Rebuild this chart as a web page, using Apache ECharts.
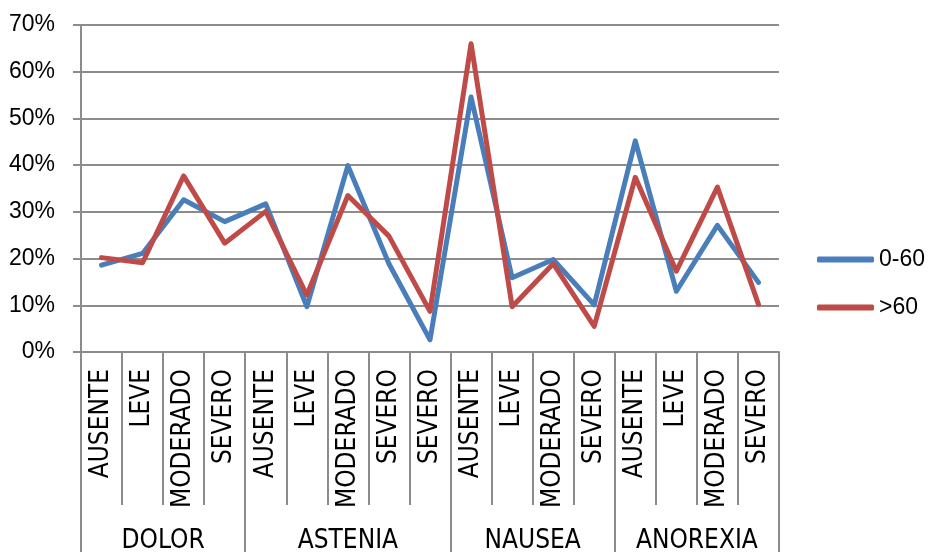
<!DOCTYPE html>
<html>
<head>
<meta charset="utf-8">
<script src="https://cdn.jsdelivr.net/npm/echarts@6/dist/echarts.min.js"></script>
<style>
  html, body { margin: 0; padding: 0; background: #fff; }
  #chart { width: 930px; height: 554px; }
</style>
</head>
<body>
<div id="chart"></div>
<script>
// Severity levels along the bottom, one per point
const categories = [
  'AUSENTE', 'LEVE', 'MODERADO', 'SEVERO',
  'AUSENTE', 'LEVE', 'MODERADO', 'SEVERO', 'SEVERO',
  'AUSENTE', 'LEVE', 'MODERADO', 'SEVERO',
  'AUSENTE', 'LEVE', 'MODERADO', 'SEVERO'
];
// Symptom groups and how many severity levels each spans
const groupNames = ['DOLOR', 'ASTENIA', 'NAUSEA', 'ANOREXIA'];
const groupSizes = [4, 5, 4, 4];

// Percentage of patients per age band
const seriesNames = ['0-60', '>60'];
const ageUpTo60 = [18.6, 21.1, 32.6, 27.9, 31.7, 9.7, 39.9, 18.9, 2.6, 54.6, 15.9, 19.8, 10.1, 45.2, 13.0, 27.1, 14.9];
const ageOver60 = [20.2, 19.1, 37.7, 23.3, 30.1, 12.2, 33.5, 24.8, 8.7, 66.0, 9.7, 18.9, 5.5, 37.4, 17.3, 35.3, 10.2];

// y axis ticks (percent)
const yMax = 70;
const yStep = 10;

// group boundaries and centres on a 0..N scale
const groupEdges = [0];
groupSizes.forEach(s => groupEdges.push(groupEdges[groupEdges.length - 1] + s));
const groupCentres = groupSizes.map((s, i) => groupEdges[i] + s / 2);

const GRAY = '#8c8c8c';
const SANS = "'Liberation Sans', Arial, sans-serif";
const NARROW = "'Liberation Sans Narrow', 'DejaVu Sans Condensed', 'Liberation Sans', sans-serif";

const chart = echarts.init(document.getElementById('chart'), null, { renderer: 'canvas' });

chart.setOption({
  animation: false,
  backgroundColor: '#fff',
  grid: { left: 81, right: 151, top: 25, bottom: 200 },
  legend: {
    orient: 'vertical',
    left: 817,
    top: 248,
    padding: 0,
    itemWidth: 57,
    itemHeight: 6,
    itemGap: 25,
    icon: 'roundRect',
    textStyle: { fontFamily: SANS, fontSize: 23, color: '#000' },
    data: seriesNames
  },
  xAxis: [
    {
      type: 'category',
      data: categories,
      boundaryGap: true,
      axisLine: { show: true, lineStyle: { color: GRAY, width: 2 } },
      axisTick: { show: true, interval: 0, length: 153, lineStyle: { color: GRAY, width: 2 } },
      axisLabel: {
        interval: 0,
        rotate: 90,
        margin: 17,
        fontFamily: NARROW,
        fontSize: 26,
        color: '#000'
      },
      splitLine: { show: false }
    },
    {
      type: 'value',
      min: 0,
      max: categories.length,
      position: 'bottom',
      axisLine: { show: false },
      splitLine: { show: false },
      axisTick: {
        show: true,
        customValues: groupEdges,
        length: 200,
        lineStyle: { color: GRAY, width: 2 }
      },
      axisLabel: {
        customValues: groupCentres,
        margin: 176,
        fontFamily: NARROW,
        fontSize: 26,
        color: '#000',
        formatter: function (v) {
          const i = groupCentres.findIndex(c => Math.abs(c - v) < 1e-6);
          return i >= 0 ? groupNames[i] : '';
        }
      }
    }
  ],
  yAxis: {
    type: 'value',
    min: 0,
    max: yMax,
    interval: yStep,
    axisLine: { show: true, lineStyle: { color: GRAY, width: 2 } },
    axisTick: { show: true, length: 8, lineStyle: { color: GRAY, width: 2 } },
    axisLabel: {
      margin: 26,
      fontFamily: SANS,
      fontSize: 23,
      color: '#000',
      formatter: '{value}%'
    },
    splitLine: { show: true, lineStyle: { color: GRAY, width: 2 } }
  },
  series: [
    {
      name: seriesNames[0],
      type: 'line',
      data: ageUpTo60,
      xAxisIndex: 0,
      symbol: 'none',
      color: '#4A7EBB',
      lineStyle: { width: 5, cap: 'round', join: 'round' }
    },
    {
      name: seriesNames[1],
      type: 'line',
      data: ageOver60,
      xAxisIndex: 0,
      symbol: 'none',
      color: '#BE4B48',
      lineStyle: { width: 5, cap: 'round', join: 'round' }
    }
  ]
});
</script>
</body>
</html>
